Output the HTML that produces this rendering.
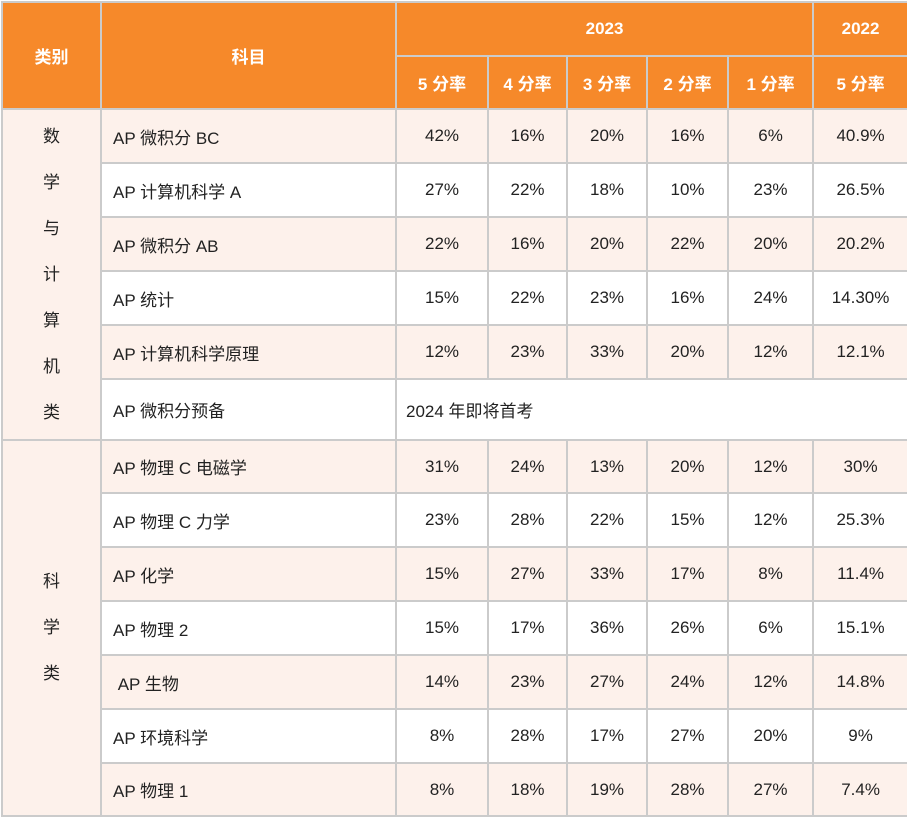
<!DOCTYPE html>
<html><head><meta charset="utf-8"><style>
body{margin:0;width:907px;height:816px;overflow:hidden;background:#fff;font-family:"Liberation Sans","Noto Sans CJK SC",sans-serif;}
table{border-collapse:collapse;table-layout:fixed;width:906px;position:absolute;left:1px;top:1px;}
td,th{border:2px solid #cbcbcb;font-size:17px;color:#222;text-align:center;padding:0;}
th{background:#f6892a;color:#fff;font-weight:bold;}
tr.l td{background:#fdf1eb;}
td.s{text-align:left;padding-left:11px;}
td.cat{background:#fdf1eb;line-height:46px;}
</style></head><body>
<table>
<colgroup><col style="width:99px"><col style="width:295px"><col style="width:92px"><col style="width:79px"><col style="width:80px"><col style="width:81px"><col style="width:85px"><col style="width:95px"></colgroup>
<tr style="height:54px"><th rowspan="2">类别</th><th rowspan="2">科目</th><th colspan="5">2023</th><th>2022</th></tr>
<tr style="height:53px"><th>5 分率</th><th>4 分率</th><th>3 分率</th><th>2 分率</th><th>1 分率</th><th>5 分率</th></tr>
<tr class="l" style="height:54px"><td rowspan="6" class="cat">数<br>学<br>与<br>计<br>算<br>机<br>类</td><td class="s">AP 微积分 BC</td><td>42%</td><td>16%</td><td>20%</td><td>16%</td><td>6%</td><td>40.9%</td></tr>
<tr style="height:54px"><td class="s">AP 计算机科学 A</td><td>27%</td><td>22%</td><td>18%</td><td>10%</td><td>23%</td><td>26.5%</td></tr>
<tr class="l" style="height:54px"><td class="s">AP 微积分 AB</td><td>22%</td><td>16%</td><td>20%</td><td>22%</td><td>20%</td><td>20.2%</td></tr>
<tr style="height:54px"><td class="s">AP 统计</td><td>15%</td><td>22%</td><td>23%</td><td>16%</td><td>24%</td><td>14.30%</td></tr>
<tr class="l" style="height:54px"><td class="s">AP 计算机科学原理</td><td>12%</td><td>23%</td><td>33%</td><td>20%</td><td>12%</td><td>12.1%</td></tr>
<tr style="height:61px"><td class="s">AP 微积分预备</td><td colspan="6" class="s" style="padding-left:9px">2024 年即将首考</td></tr>
<tr class="l" style="height:53px"><td rowspan="7" class="cat">科<br>学<br>类</td><td class="s">AP 物理 C 电磁学</td><td>31%</td><td>24%</td><td>13%</td><td>20%</td><td>12%</td><td>30%</td></tr>
<tr style="height:54px"><td class="s">AP 物理 C 力学</td><td>23%</td><td>28%</td><td>22%</td><td>15%</td><td>12%</td><td>25.3%</td></tr>
<tr class="l" style="height:54px"><td class="s">AP 化学</td><td>15%</td><td>27%</td><td>33%</td><td>17%</td><td>8%</td><td>11.4%</td></tr>
<tr style="height:54px"><td class="s">AP 物理 2</td><td>15%</td><td>17%</td><td>36%</td><td>26%</td><td>6%</td><td>15.1%</td></tr>
<tr class="l" style="height:54px"><td class="s">&nbsp;AP 生物</td><td>14%</td><td>23%</td><td>27%</td><td>24%</td><td>12%</td><td>14.8%</td></tr>
<tr style="height:54px"><td class="s">AP 环境科学</td><td>8%</td><td>28%</td><td>17%</td><td>27%</td><td>20%</td><td>9%</td></tr>
<tr class="l" style="height:53px"><td class="s">AP 物理 1</td><td>8%</td><td>18%</td><td>19%</td><td>28%</td><td>27%</td><td>7.4%</td></tr>
</table>
</body></html>
